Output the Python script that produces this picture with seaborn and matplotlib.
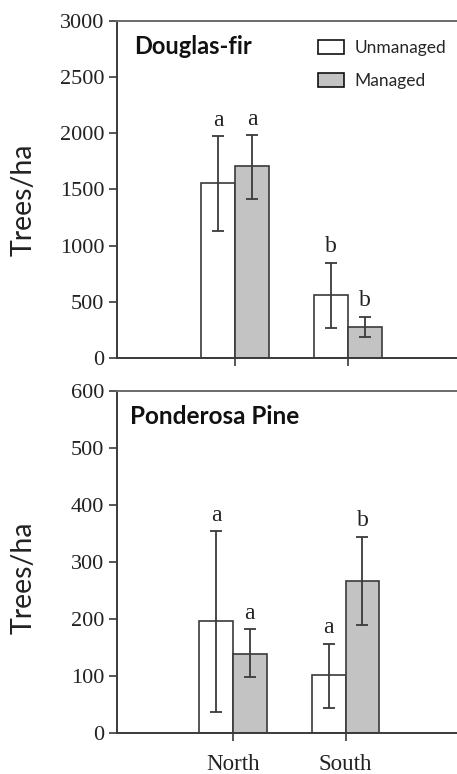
import numpy as np
import pandas as pd
import matplotlib
matplotlib.use("Agg")
import matplotlib.pyplot as plt
from matplotlib.patches import Patch
from matplotlib.container import BarContainer
import seaborn as sns

sns.set_style("ticks")
plt.rcParams["font.family"] = ["Liberation Serif", "DejaVu Serif"]

# ---------------- data ----------------
categories = ["North", "South"]
treatments = ["Unmanaged", "Managed"]

df_unmanaged = [1560, 558]
df_managed = [1708, 278]
df_unmanaged_low = [1133, 263]
df_unmanaged_high = [1976, 849]
df_managed_low = [1418, 184]
df_managed_high = [1985, 368]
df_letters_unmanaged = ["a", "b"]
df_letters_managed = ["a", "b"]

pp_unmanaged = [197, 101]
pp_managed = [139, 266]
pp_unmanaged_low = [37, 43]
pp_unmanaged_high = [354, 157]
pp_managed_low = [98, 190]
pp_managed_high = [182, 344]
pp_letters_unmanaged = ["a", "a"]
pp_letters_managed = ["a", "b"]

df_ticks = [0, 500, 1000, 1500, 2000, 2500, 3000]
pp_ticks = [0, 100, 200, 300, 400, 500, 600]

colors = {"Unmanaged": "#ffffff", "Managed": "#c3c3c3"}
edge = "#3a3a3a"
serif = ["Liberation Serif", "DejaVu Serif"]
sans = ["Lato", "DejaVu Sans"]

fig = plt.figure(figsize=(4.57, 7.74), dpi=100)
ax1 = fig.add_axes([0.256, 0.5375, 0.744, 0.4354])
ax2 = fig.add_axes([0.256, 0.053, 0.744, 0.4418])


def panel(ax, um, m, uml, umh, ml, mh, lu, lm, ticks, title, xlim, show_xlabels,
          title_x, title_size, label_y):
    data = pd.DataFrame({
        "Aspect": categories * 2,
        "Treatment": [treatments[0]] * 2 + [treatments[1]] * 2,
        "Value": list(um) + list(m),
    })
    sns.barplot(data=data, x="Aspect", y="Value", hue="Treatment",
                order=categories, hue_order=treatments, palette=colors,
                width=0.6, errorbar=None, legend=False, ax=ax,
                edgecolor=edge, linewidth=1.2, saturation=1)
    ymax = ticks[-1]
    lows = [uml, ml]
    highs = [umh, mh]
    means = [um, m]
    letters = [lu, lm]
    bar_conts = [c for c in ax.containers if isinstance(c, BarContainer)]
    for i, cont in enumerate(bar_conts):
        for j, bar in enumerate(cont.patches):
            xc = bar.get_x() + bar.get_width() / 2
            mean = means[i][j]
            yerr = [[mean - lows[i][j]], [highs[i][j] - mean]]
            ax.errorbar([xc], [mean], yerr=yerr, fmt="none", ecolor=edge,
                        elinewidth=1.3, capsize=4.5, capthick=1.3, zorder=5)
            ax.text(xc, highs[i][j] + 0.047 * ymax, letters[i][j],
                    ha="center", va="center", fontsize=17, color="#222222",
                    family=serif)
    ax.set_ylim(0, ymax)
    ax.set_yticks(ticks)
    ax.set_yticklabels([str(t) for t in ticks], fontsize=16, color="#222222",
                       family=serif)
    ax.set_xlim(*xlim)
    ax.set_xlabel("")
    ax.set_ylabel("Trees/ha", fontsize=20.5, family=sans, color="#222222")
    ax.yaxis.set_label_coords(-0.235, label_y)
    if show_xlabels:
        ax.set_xticklabels(categories, fontsize=16.5, color="#222222", family=serif)
    else:
        ax.set_xticklabels([])
    ax.tick_params(axis="x", length=6, width=1.2, color=edge, pad=9)
    ax.tick_params(axis="y", length=6, width=1.2, color=edge, pad=3)
    for s in ["left", "bottom", "top"]:
        ax.spines[s].set_visible(True)
        ax.spines[s].set_color(edge)
        ax.spines[s].set_linewidth(1.4)
    ax.spines["top"].set_color("#6a6a6a")
    ax.spines["right"].set_visible(False)
    ax.text(title_x, 0.925, title, transform=ax.transAxes, ha="left", va="center",
            fontsize=title_size, fontweight="bold", family=sans, color="#111111")


panel(ax1, df_unmanaged, df_managed, df_unmanaged_low, df_unmanaged_high,
      df_managed_low, df_managed_high, df_letters_unmanaged, df_letters_managed,
      df_ticks, "Douglas-fir", (-1.05, 1.97), False, 0.05, 17, 0.47)
panel(ax2, pp_unmanaged, pp_managed, pp_unmanaged_low, pp_unmanaged_high,
      pp_managed_low, pp_managed_high, pp_letters_unmanaged, pp_letters_managed,
      pp_ticks, "Ponderosa Pine", (-1.03, 1.99), True, 0.038, 17.5, 0.455)

handles = [Patch(facecolor=colors[t], edgecolor="#111111", linewidth=1.2, label=t)
           for t in treatments]
leg = ax1.legend(handles=handles, loc="upper right", bbox_to_anchor=(1.0, 0.975),
                 frameon=False, prop={"family": sans, "size": 12.5},
                 handlelength=1.5, handleheight=0.9, handletextpad=0.6,
                 labelspacing=0.95, borderaxespad=0.2)

fig.savefig("out.png", dpi=100)
